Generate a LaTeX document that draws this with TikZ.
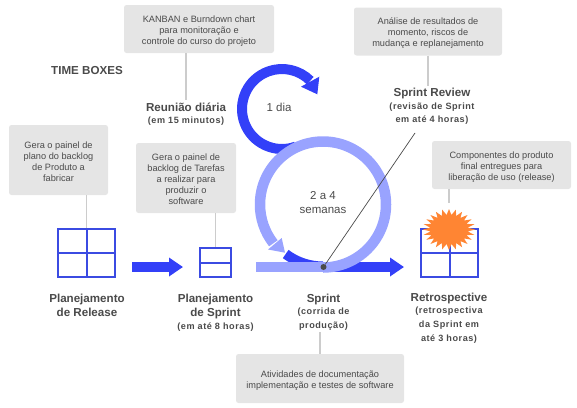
\documentclass[tikz,border=0pt]{standalone}
\usepackage{fontspec}
\setmainfont{Liberation Sans}
\newfontfamily\spacedfont[LetterSpace=6]{Liberation Sans}
\usetikzlibrary{arrows.meta,shapes.geometric}
\definecolor{boxgray}{HTML}{E5E5E5}
\definecolor{leadgray}{HTML}{CCCCCC}
\definecolor{textgray}{HTML}{4A4A4A}
\definecolor{darkblue}{HTML}{3340F8}
\definecolor{lightblue}{HTML}{99A3FF}
\definecolor{gridblue}{HTML}{3B4BE2}
\definecolor{burstorange}{HTML}{FF8533}
\newcommand{\subt}[1]{{\spacedfont\bfseries\fontsize{9.1}{13}\selectfont #1}}
\tikzset{
  note/.style={fill=boxgray,rounded corners=2.5pt,align=center,text=textgray,inner sep=0pt,
    font=\fontsize{9.2}{11}\selectfont},
  lead/.style={draw=leadgray,line width=1.2pt},
  title/.style={align=center,text=textgray,inner sep=2pt,font=\bfseries\fontsize{11.6}{13.8}\selectfont},
  gridbox/.style={draw=gridblue,line width=2pt,inner sep=0pt},
  gridline/.style={draw=gridblue,line width=2pt},
  bigarrow/.style={draw=darkblue,line width=10pt,-{Triangle[length=14pt,width=18pt]}},
  ringtext/.style={align=center,text=textgray,font=\fontsize{11.5}{14}\selectfont}
}
\begin{document}
\begin{tikzpicture}[x=1pt,y=-1pt]
  \useasboundingbox (0,0) rectangle (577,407);
  \node[title,anchor=west,inner sep=0pt] (timeboxes) at (51,71) {TIME BOXES};
  \node[note,minimum width=150pt,minimum height=48pt] (kanban) at (199,29) {\\[0pt]KANBAN e Burndown chart\\para monitoração e\\controle do curso do projeto};
  \node[note,minimum width=148pt,minimum height=48pt] (analise) at (428,31.5) {\\[-1pt]Análise de resultados de\\momento, riscos de\\mudança e replanejamento};
  \node[note,minimum width=99pt,minimum height=70pt] (plano) at (58.5,160) {\\[0pt]Gera o painel de\\plano do backlog\\de Produto a\\fabricar};
  \node[note,minimum width=100pt,minimum height=70pt] (tarefas) at (186,178) {\\[-1pt]Gera o painel de\\backlog de Tarefas\\a realizar para\\produzir o\\software};
  \node[note,minimum width=139pt,minimum height=48pt] (componentes) at (501.5,165) {\\[0pt]Componentes do produto\\final entregues para\\liberação de uso (release)};
  \node[note,minimum width=168pt,minimum height=49pt] (atividades) at (320,378.5) {\\[-1pt]Atividades de documentação\\implementação e testes de software};

  \node[title] (reuniao) at (186,114) {Reunião diária\\[-1.5pt]\subt{(em 15 minutos)}};
  \node[title] (review) at (432,106.5) {Sprint Review\\[-1.5pt]\subt{(revisão de Sprint}\\\subt{em até 4 horas)}};
  \node[title] (planrelease) at (87,305.5) {Planejamento\\de Release};
  \node[title] (plansprint) at (215.5,312.5) {Planejamento\\de Sprint\\[-1pt]\subt{(em até 8 horas)}};
  \node[title] (sprint) at (323.5,312) {Sprint\\[-1.5pt]\subt{(corrida de}\\\subt{produção)}};
  \node[title] (retro) at (449,318) {Retrospective\\[-1.5pt]\subt{(retrospectiva}\\\subt{da Sprint em}\\\subt{até 3 horas)}};

  \node[gridbox,minimum width=57pt,minimum height=48pt] (release) at (86.5,253) {};
  \draw[gridline] (release.north) -- (release.south);
  \draw[gridline] (release.west) -- (release.east);
  \node[gridbox,minimum width=31pt,minimum height=29pt] (backlog) at (215.5,262.5) {};
  \draw[gridline] (backlog.west) -- (backlog.east);
  \node[gridbox,minimum width=57pt,minimum height=48pt] (final) at (449.5,253) {};
  \draw[gridline] (final.north) -- (final.south);
  \draw[gridline] (final.west) -- (final.east);
  \node[star,star points=24,star point ratio=1.4,fill=burstorange,inner sep=0pt,minimum size=41pt,xscale=1.28] (burst) at (449,229.5) {};

  \coordinate (dailyc) at (282,109);
  \coordinate (sprintc) at (323,204.5);
  \coordinate (barstart) at (256,267);
  \coordinate (barmid) at (323.5,267);
  \coordinate (barend) at (404,267);
  \coordinate (arrowa) at (132,267);
  \coordinate (arrowb) at (183,267);
  \coordinate (reviewfoot) at (415,133);
  \coordinate (burstfoot) at (449,203);

  \draw[lead] (kanban.south -| reuniao.north) -- (reuniao.north);
  \draw[lead] (analise.south) -- (analise.south |- review.north);
  \draw[lead] (release.north |- plano.south) -- (release.north);
  \draw[lead] (backlog.north |- tarefas.south) -- (backlog.north);
  \draw[lead] (burstfoot |- componentes.south) -- (burstfoot);
  \draw[lead] (atividades.north) -- (atividades.north |- sprint.south);

  \draw[bigarrow] (arrowa) -- (arrowb);
  \draw[bigarrow] (barmid) -- (barend);
  \draw[darkblue,line width=10pt] (dailyc) ++(70:40) arc (70:315:40);
  \fill[darkblue] (319.3,76.7) -- (301,86.7) -- (317.3,94.3) -- cycle;
  \draw[darkblue,line width=10pt] (sprintc) ++(127:62) arc (127:90:62);

  \draw[lightblue,line width=10pt] (barstart) -- (barmid);
  \draw[lightblue,line width=10.5pt] (sprintc) ++(90:63) arc (90:-218:63);
  \fill[lightblue] (268,249.5) -- (281.7,238) -- (285,252.7) -- cycle;

  \node[ringtext] (oneday) at (279,107) {1 dia};
  \node[ringtext] (weeks) at (323,203) {2 a 4\\semanas};
  \node[circle,fill=textgray,inner sep=0pt,minimum size=6pt] (dot) at (barmid) {};
  \draw[textgray,line width=0.7pt] (dot) -- (reviewfoot);
\end{tikzpicture}
\end{document}
